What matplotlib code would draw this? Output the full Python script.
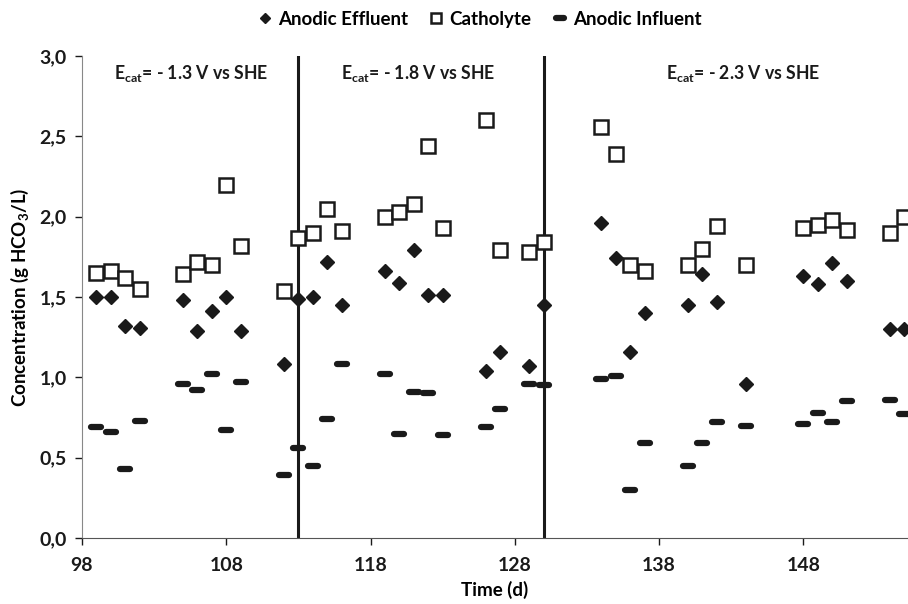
import numpy as np
import matplotlib
matplotlib.use("Agg")
from matplotlib import pyplot as plt
from matplotlib.markers import MarkerStyle

plt.rcParams['font.family'] = ['Lato', 'DejaVu Sans']
plt.rcParams['font.weight'] = 'bold'
plt.rcParams['mathtext.fontset'] = 'custom'
plt.rcParams['mathtext.rm'] = 'Lato:bold'
plt.rcParams['mathtext.bf'] = 'Lato:bold'
plt.rcParams['mathtext.default'] = 'bf'

# days sampled
days = [99, 100, 101, 102, 105, 106, 107, 108, 109, 112, 113, 114, 115, 116,
        119, 120, 121, 122, 123, 126, 127, 129, 130, 134, 135, 136, 137,
        140, 141, 142, 144, 148, 149, 150, 151, 154, 155]

catholyte = [1.65, 1.66, 1.62, 1.55, 1.64, 1.72, 1.70, 2.20, 1.82, 1.54, 1.87, 1.90, 2.05, 1.91,
             2.00, 2.03, 2.08, 2.44, 1.93, 2.60, 1.79, 1.78, 1.84, 2.56, 2.39, 1.70, 1.66,
             1.70, 1.80, 1.94, 1.70, 1.93, 1.95, 1.98, 1.92, 1.90, 2.00]

effluent = [1.50, 1.50, 1.32, 1.31, 1.48, 1.29, 1.41, 1.50, 1.29, 1.08, 1.49, 1.50, 1.72, 1.45,
            1.66, 1.59, 1.79, 1.51, 1.51, 1.04, 1.16, 1.07, 1.45, 1.96, 1.74, 1.16, 1.40,
            1.45, 1.64, 1.47, 0.96, 1.63, 1.58, 1.71, 1.60, 1.30, 1.30]

influent = [0.69, 0.66, 0.43, 0.73, 0.96, 0.92, 1.02, 0.67, 0.97, 0.39, 0.56, 0.45, 0.74, 1.08,
            1.02, 0.65, 0.91, 0.90, 0.64, 0.69, 0.80, 0.96, 0.95, 0.99, 1.01, 0.30, 0.59,
            0.45, 0.59, 0.72, 0.70, 0.71, 0.78, 0.72, 0.85, 0.86, 0.77]

switch_days = [113, 130]
labels = ['- 1.3', '- 1.8', '- 2.3']
label_x = [105.6, 121.3, 143.8]

fig = plt.figure(figsize=(9.08, 6.04), dpi=100)
ax = fig.add_axes([0.0903, 0.1093, 0.9097, 0.798])

for d in switch_days:
    ax.axvline(d, color='#1a1a1a', lw=2.2, zorder=1)

dash = MarkerStyle('_', capstyle='round')
ax.plot(days, effluent, linestyle='none', marker='D', ms=7, color='#1a1a1a',
        label='Anodic Effluent', clip_on=False, zorder=3)
ax.plot(days, catholyte, linestyle='none', marker='s', ms=9.5, mfc='white', mec='#1a1a1a',
        mew=1.8, label='Catholyte', clip_on=False, zorder=3)
ax.plot(days, influent, linestyle='none', marker=dash, ms=7.5, mew=4.5, color='#1a1a1a',
        label='Anodic Influent', clip_on=False, zorder=3)

for lx, lab in zip(label_x, labels):
    ax.text(lx, 2.89, r'E$_{cat}$= ' + lab + ' V vs SHE', ha='center', va='center',
            fontsize=12.7, fontweight='bold', color='#1a1a1a')

ax.set_xlim(98, 155.25)
ax.set_ylim(0, 3.0)
ax.set_xticks([98, 108, 118, 128, 138, 148])
ax.set_yticks(np.arange(0, 3.01, 0.5))
ax.set_yticklabels([('%.1f' % v).replace('.', ',') for v in np.arange(0, 3.01, 0.5)])
ax.tick_params(labelsize=14, colors='#1a1a1a', length=5, width=1)
ax.tick_params(axis='x', pad=9)
ax.tick_params(axis='y', pad=6)
for lab in ax.get_xticklabels() + ax.get_yticklabels():
    lab.set_fontweight('bold')

ax.spines['top'].set_visible(False)
ax.spines['right'].set_visible(False)
ax.spines['left'].set_color('#888888')
ax.spines['bottom'].set_color('#555555')

ax.set_xlabel('Time (d)', fontsize=13.5, fontweight='bold', labelpad=5)
ax.set_ylabel(r'Concentration (g HCO$_3$/L)', fontsize=13.5, fontweight='bold', labelpad=6)

fig.legend(loc='center', bbox_to_anchor=(0.528, 0.968), ncol=3, frameon=False,
           fontsize=13.5, handlelength=0.8, handletextpad=0.3, columnspacing=1.1,
           markerscale=0.8)

fig.savefig('out.png', dpi=100)
